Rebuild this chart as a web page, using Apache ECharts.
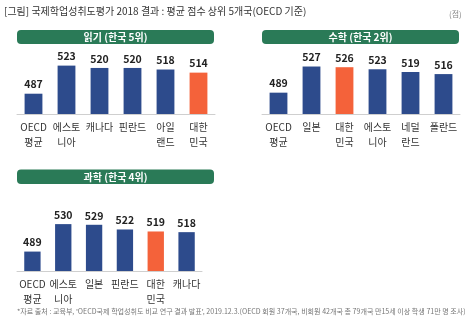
<!DOCTYPE html>
<html><head><meta charset="utf-8">
<script src="https://cdn.jsdelivr.net/npm/echarts@6/dist/echarts.min.js"></script>
<style>html,body{margin:0;padding:0;background:#fff}#c{width:474px;height:329px}</style>
</head><body><div id="c"></div>
<script>
const readingCats = ['OECD\n평균','에스토\n니아','캐나다','핀란드','아일\n랜드','대한\n민국'];
const readingVals = [487,523,520,520,518,514];
const mathCats = ['OECD\n평균','일본','대한\n민국','에스토\n니아','네덜\n란드','폴란드'];
const mathVals = [489,527,526,523,519,516];
const sciCats = ['OECD\n평균','에스토\n니아','일본','핀란드','대한\n민국','캐나다'];
const sciVals = [489,530,529,522,519,518];
const panelTitles = ['읽기 (한국 5위)','수학 (한국 2위)','과학 (한국 4위)'];
const titleText = '[그림] 국제학업성취도평가 2018 결과 : 평균 점수 상위 5개국(OECD 기준)';
const unitText = '(점)';
const noteText = "*자료 출처 : 교육부, 'OECD국제 학업성취도 비교 연구 결과 발표', 2019.12.3.(OECD 회원 37개국, 비회원 42개국 총 79개국 만15세 이상 학생 71만 명 조사)";

const FONT = '"Noto Sans CJK KR", "Noto Sans", sans-serif';
const BLUE = '#2d4b8c', ORANGE = '#f4623a', GREEN = '#2a7a57';
const chart = echarts.init(document.getElementById('c'), null, {renderer:'canvas'});

function colored(cats, vals){
  return vals.map((v,i)=>({value:v, itemStyle:{color: cats[i].replace('\n','')==='대한민국'?ORANGE:BLUE}}));
}
const grids = [
  {left:17, top:50, width:198, height:64},
  {left:262, top:50, width:198, height:64},
  {left:17, top:200, width:185, height:71}
];
const ranges = [[461,543],[458,551],[460,566]];
const catsAll = [readingCats, mathCats, sciCats];
const valsAll = [readingVals, mathVals, sciVals];

const xAxis = [], yAxis = [], series = [];
for (let i=0;i<3;i++){
  xAxis.push({type:'category', gridIndex:i, data:catsAll[i],
    axisLine:{lineStyle:{color:'#cfcfcf', width:1}}, axisTick:{show:false},
    axisLabel:{interval:0, color:'#333', fontSize:10, fontFamily:FONT, lineHeight:15, margin:6}});
  yAxis.push({type:'value', gridIndex:i, min:ranges[i][0], max:ranges[i][1], show:false, splitLine:{show:false}});
  series.push({type:'bar', xAxisIndex:i, yAxisIndex:i, data:colored(catsAll[i], valsAll[i]),
    barWidth: i===2?'53%':'54%',
    label:{show:true, position:'top', distance:4, color:'#222', fontSize:10.5, fontWeight:'bold', fontFamily:FONT}});
}
const headers = [
  {x:17, y:30, w:197, h:14},
  {x:262, y:30, w:197, h:14},
  {x:17, y:169.5, w:197, h:14.5}
];
const graphic = [
  {type:'text', left:4, top:6, style:{text:titleText, fill:'#333', font:'10px '+FONT}},
  {type:'text', left:449, top:10, style:{text:unitText, fill:'#888', font:'8px '+FONT}},
  {type:'text', left:17, top:308, style:{text:noteText, fill:'#777', font:'7.05px '+FONT}}
];
headers.forEach((h,i)=>{
  graphic.push({type:'rect', shape:{x:h.x, y:h.y, width:h.w, height:h.h, r:4}, style:{fill:GREEN}});
  graphic.push({type:'text', x:h.x+h.w/2, y:h.y+h.h/2, style:{text:panelTitles[i], fill:'#fff', font:'bold 10px '+FONT, textAlign:'center', textVerticalAlign:'middle'}});
});

chart.setOption({animation:false, grid:grids, xAxis, yAxis, series, graphic});
</script></body></html>
